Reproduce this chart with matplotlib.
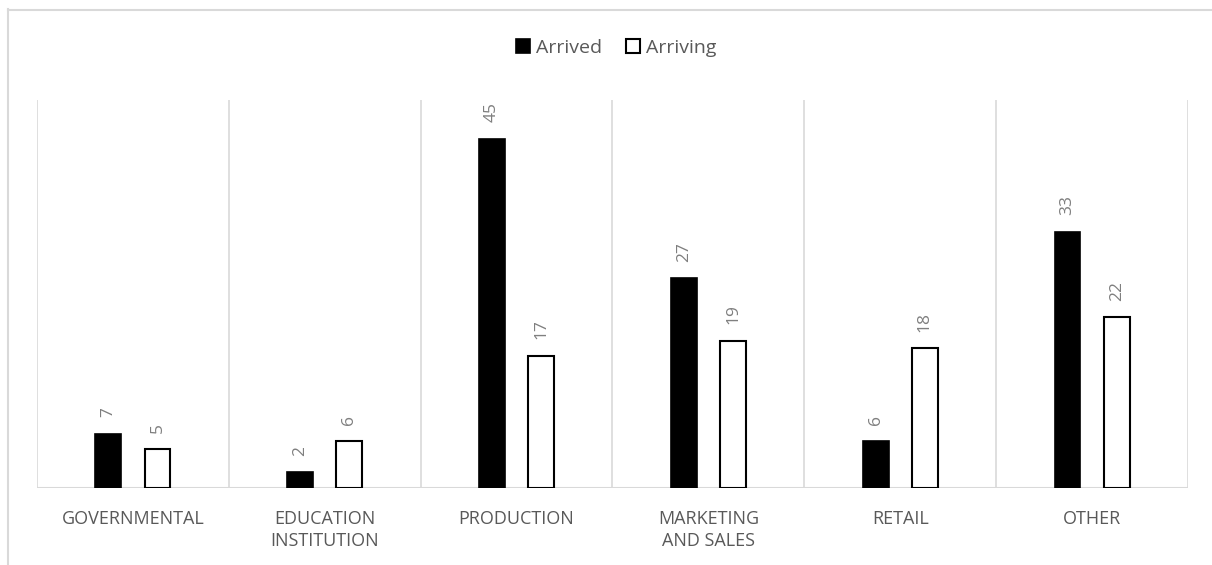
import matplotlib.pyplot as plt
from matplotlib.lines import Line2D
import numpy as np

categories = ['GOVERNMENTAL', 'EDUCATION\nINSTITUTION', 'PRODUCTION',
              'MARKETING\nAND SALES', 'RETAIL', 'OTHER']
arrived = [7, 2, 45, 27, 6, 33]
arriving = [5, 6, 17, 19, 18, 22]

plt.rcParams['font.family'] = ['Open Sans', 'DejaVu Sans']

grid_c = '#d9d9d9'
fig = plt.figure(figsize=(12.12, 5.65), dpi=100)
ax = fig.add_axes([37 / 1212, 1 - 488 / 565, (1188 - 37) / 1212, (488 - 100) / 565])

x = np.arange(len(categories))
w = 0.135
off = 0.128
b1 = ax.bar(x - off, arrived, w, color='black', edgecolor='black', lw=1.2,
            label='Arrived', zorder=3)
b2 = ax.bar(x + off, arriving, w, color='white', edgecolor='black', lw=1.5,
            label='Arriving', zorder=3)

for bars, vals in ((b1, arrived), (b2, arriving)):
    for r, v in zip(bars, vals):
        ax.annotate(str(v), (r.get_x() + r.get_width() / 2, v),
                    xytext=(0, 12), textcoords='offset points',
                    rotation=90, ha='center', va='bottom',
                    fontsize=12.5, color='#7f7f7f')

ax.set_xlim(-0.5, len(categories) - 0.5)
ax.set_ylim(0, 50)
for b in np.arange(-0.5, len(categories), 1):
    ax.axvline(b, color=grid_c, lw=1.2, zorder=1)
ax.axhline(0, color=grid_c, lw=1.5, zorder=2)

for s in ax.spines.values():
    s.set_visible(False)
ax.set_yticks([])
ax.set_xticks(x)
ax.set_xticklabels(categories, fontsize=13, color='#595959', linespacing=1.35)
ax.tick_params(axis='x', length=0, pad=15.5)

leg = fig.legend(handles=[b1, b2], loc='center', bbox_to_anchor=(616 / 1212, 1 - 48 / 565),
                 ncol=2, frameon=False, fontsize=14, handlelength=0.75, handleheight=0.75,
                 handletextpad=0.3, columnspacing=1.2, labelcolor='#595959')

# chart border (right and bottom fall outside the picture)
fig.add_artist(Line2D([7.5 / 1212, 7.5 / 1212], [0, 1 - 9 / 565], transform=fig.transFigure,
                      color=grid_c, lw=1.5))
fig.add_artist(Line2D([7.5 / 1212, 1], [1 - 9.5 / 565, 1 - 9.5 / 565], transform=fig.transFigure,
                      color=grid_c, lw=1.5))

fig.savefig('out.png', dpi=100)
